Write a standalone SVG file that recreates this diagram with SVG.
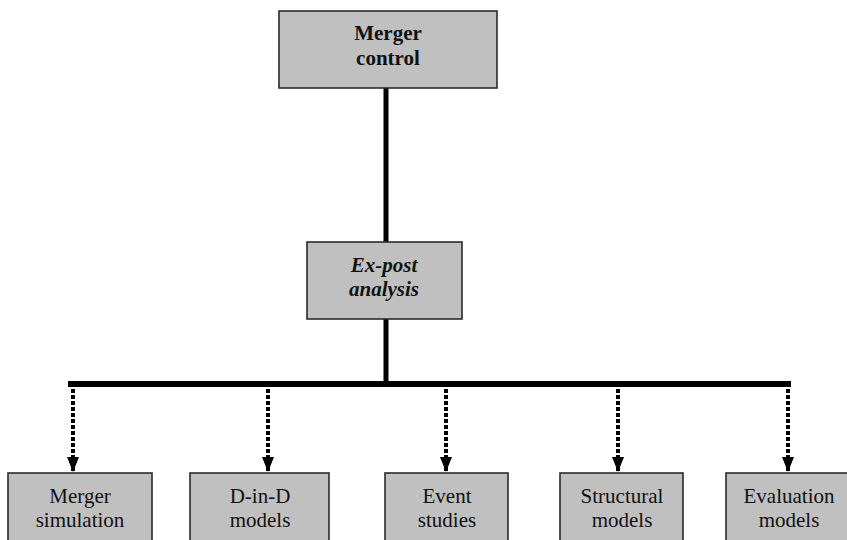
<svg xmlns="http://www.w3.org/2000/svg" width="847" height="540" viewBox="0 0 847 540">
<defs>
<marker id="ah" markerUnits="userSpaceOnUse" markerWidth="16" markerHeight="14" refX="15" refY="7" orient="auto" viewBox="0 0 16 14">
<path d="M0,1 L15,7 L0,13 Z" fill="#000"/>
</marker>
</defs>
<style>
.box{fill:#c0c0c0;stroke:#2a2a2a;stroke-width:1.6}
.t{font-size:21px;fill:#111;text-anchor:middle}
.b{font-weight:bold}
.bi{font-weight:bold;font-style:italic}
.solid{stroke:#000;stroke-width:5;fill:none}
.bus{stroke:#000;stroke-width:6;fill:none}
.dot{stroke:#000;stroke-width:4;stroke-dasharray:4 2;fill:none}
</style>
<rect width="847" height="540" fill="#fff"/>
<g id="connectors">
<line class="solid" x1="386" y1="88" x2="386" y2="242"/>
<line class="solid" x1="386" y1="319" x2="386" y2="382"/>
<line class="bus" x1="68" y1="384" x2="791" y2="384"/>
<line class="dot" x1="73" y1="389" x2="73" y2="472" marker-end="url(#ah)"/>
<line class="dot" x1="268" y1="389" x2="268" y2="472" marker-end="url(#ah)"/>
<line class="dot" x1="446" y1="389" x2="446" y2="472" marker-end="url(#ah)"/>
<line class="dot" x1="618" y1="389" x2="618" y2="472" marker-end="url(#ah)"/>
<line class="dot" x1="788" y1="389" x2="788" y2="472" marker-end="url(#ah)"/>
</g>
<g font-family="'Liberation Serif', 'DejaVu Serif', serif">
<g id="merger-control">
<rect class="box" x="279" y="11" width="218" height="77"/>
<text class="t b" x="388" y="40">Merger</text>
<text class="t b" x="388" y="65">control</text>
</g>
<g id="ex-post">
<rect class="box" x="307" y="242" width="155" height="77"/>
<text class="t bi" x="384" y="272">Ex-post</text>
<text class="t bi" x="384" y="296">analysis</text>
</g>
<g id="merger-simulation">
<rect class="box" x="8" y="473" width="144" height="80"/>
<text class="t" x="80" y="503">Merger</text>
<text class="t" x="80" y="527">simulation</text>
</g>
<g id="d-in-d">
<rect class="box" x="190" y="473" width="139" height="80"/>
<text class="t" x="260" y="503">D-in-D</text>
<text class="t" x="260" y="527">models</text>
</g>
<g id="event-studies">
<rect class="box" x="385" y="473" width="123" height="80"/>
<text class="t" x="447" y="503">Event</text>
<text class="t" x="447" y="527">studies</text>
</g>
<g id="structural-models">
<rect class="box" x="560" y="473" width="123" height="80"/>
<text class="t" x="622" y="503">Structural</text>
<text class="t" x="622" y="527">models</text>
</g>
<g id="evaluation-models">
<rect class="box" x="726" y="473" width="130" height="80"/>
<text class="t" x="789" y="503">Evaluation</text>
<text class="t" x="789" y="527">models</text>
</g>
</g>
</svg>
